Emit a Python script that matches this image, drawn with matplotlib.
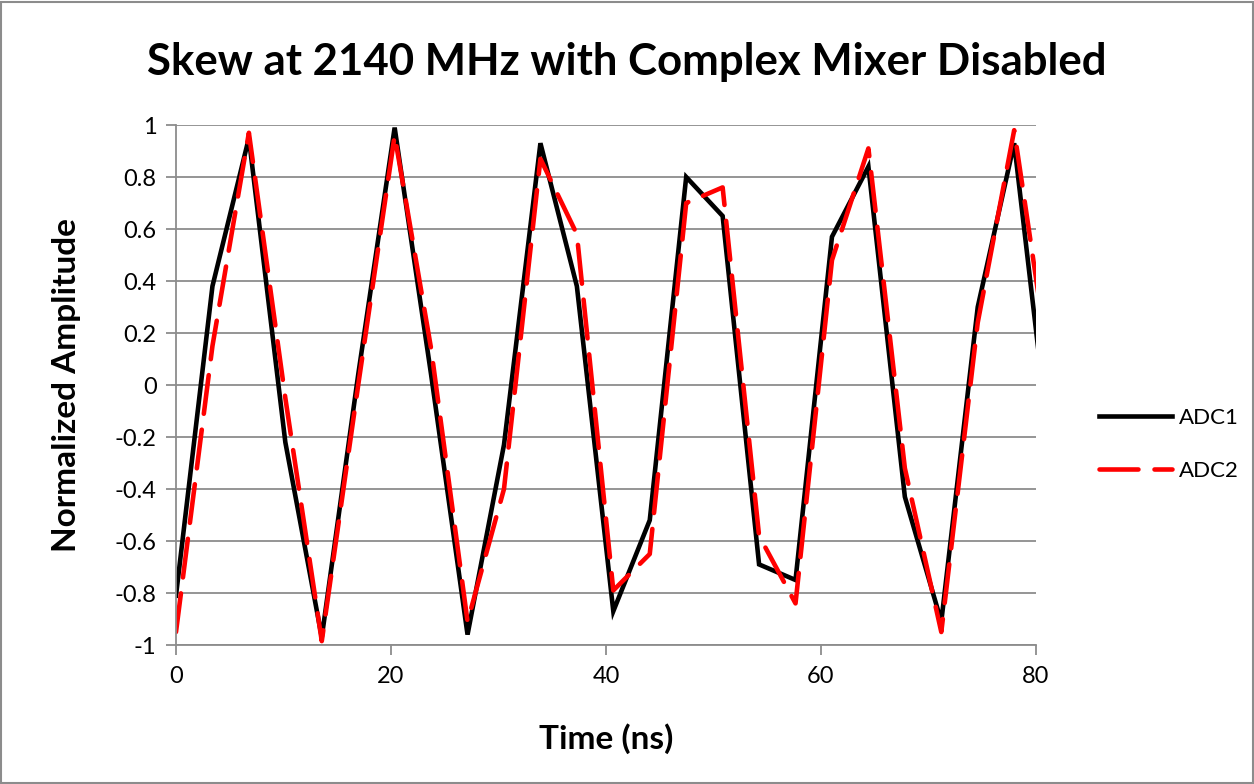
import numpy as np
import matplotlib
matplotlib.use("Agg")
import matplotlib.pyplot as plt
from matplotlib.patches import Rectangle

plt.rcParams['font.family'] = ['Lato', 'DejaVu Sans']

# sample spacing ~3.39 ns
sample_ns = 3.39
adc1 = [-0.81, 0.38, 0.95, -0.22, -0.97, 0.04, 0.99, 0.04, -0.96, -0.23,
        0.93, 0.38, -0.87, -0.52, 0.80, 0.65, -0.69, -0.75, 0.57, 0.84,
        -0.43, -0.91, 0.30, 0.93, -0.27]
adc2 = [-0.95, 0.15, 0.97, -0.05, -0.985, 0.0, 0.96, 0.14, -0.91, -0.40,
        0.87, 0.58, -0.79, -0.65, 0.70, 0.76, -0.58, -0.84, 0.48, 0.91,
        -0.32, -0.95, 0.24, 0.98, 0.03]
time_ns = [i * sample_ns for i in range(len(adc1))]

fig = plt.figure(figsize=(12.54, 7.84), dpi=100)
ax = fig.add_axes([176 / 1254, 1 - 645 / 784, (1036 - 176) / 1254, (645 - 125) / 784])

ax.plot(time_ns, adc1, color='black', lw=3.3, label='ADC1', solid_joinstyle='miter')
ax.plot(time_ns, adc2, color='#ff0000', lw=3.3, label='ADC2',
        dashes=(8.5, 3.5), dash_capstyle='round')

ax.set_xlim(0, 80)
ax.set_ylim(-1, 1)
ax.set_xticks([0, 20, 40, 60, 80])
ax.set_yticks(np.arange(-1, 1.01, 0.2))
ax.set_yticklabels(['-1', '-0.8', '-0.6', '-0.4', '-0.2', '0', '0.2', '0.4', '0.6', '0.8', '1'])
ax.yaxis.grid(True, color='#8c8c8c', lw=1.3)
ax.set_axisbelow(True)
for s in ['top', 'right']:
    ax.spines[s].set_visible(False)
for s in ['left', 'bottom']:
    ax.spines[s].set_color('#8c8c8c')
    ax.spines[s].set_linewidth(1.3)
ax.tick_params(axis='both', colors='#8c8c8c', length=7, width=1.3, labelsize=17,
               labelcolor='black')
ax.tick_params(axis='x', pad=8)
ax.tick_params(axis='y', pad=7)

ax.set_xlabel('Time (ns)', fontsize=24, fontweight='bold', labelpad=26)
ax.set_ylabel('Normalized Amplitude', fontsize=24, fontweight='bold', labelpad=24)
fig.text(0.5, 1 - 62 / 784, 'Skew at 2140 MHz with Complex Mixer Disabled',
         ha='center', va='center', fontsize=31.5, fontweight='bold')

ax.legend(loc='center left', bbox_to_anchor=(1.05, 0.386), frameon=False,
          fontsize=16, handlelength=3.3, labelspacing=1.5, handletextpad=0.3)

fig.patches.append(Rectangle((0.001, 0.001), 0.998, 0.997, transform=fig.transFigure,
                             fill=False, edgecolor='#8c8c8c', lw=1.5))

fig.savefig('out.png', dpi=100)
